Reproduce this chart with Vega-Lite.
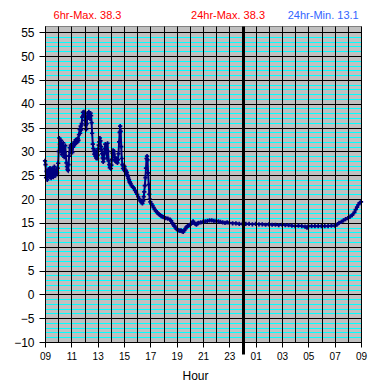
{
  "$schema": "https://vega.github.io/schema/vega-lite/v6.json",
  "width": 316,
  "height": 316,
  "autosize": "none",
  "padding": {"left": 45, "top": 26, "right": 24, "bottom": 46},
  "background": "white",
  "config": {
    "view": {"fill": "#c0c0c0", "stroke": "#808080", "strokeWidth": 1},
    "font": "Liberation Sans"
  },
  "datasets": {
    "temps": [
      {"h":9.00,"t":28.0},{"h":9.04,"t":27.2},{"h":9.08,"t":24.5},{"h":9.12,"t":25.8},{"h":9.17,"t":24.0},{"h":9.21,"t":25.5},{"h":9.25,"t":26.2},{"h":9.29,"t":24.8},{"h":9.33,"t":25.0},{"h":9.38,"t":26.5},{"h":9.42,"t":25.3},{"h":9.46,"t":24.4},{"h":9.5,"t":25.8},{"h":9.54,"t":26.4},{"h":9.58,"t":25.0},{"h":9.63,"t":24.6},{"h":9.67,"t":25.5},{"h":9.71,"t":26.8},{"h":9.75,"t":25.6},{"h":9.79,"t":24.9},{"h":9.83,"t":25.4},{"h":9.88,"t":26.2},{"h":9.92,"t":25.5},{"h":9.96,"t":26.5},
      {"h":10.0,"t":27.5},{"h":10.04,"t":30.0},{"h":10.08,"t":32.8},{"h":10.13,"t":31.5},{"h":10.17,"t":30.0},{"h":10.21,"t":32.3},{"h":10.25,"t":31.0},{"h":10.29,"t":29.3},{"h":10.33,"t":30.8},{"h":10.38,"t":31.8},{"h":10.42,"t":30.2},{"h":10.46,"t":28.8},{"h":10.5,"t":29.8},{"h":10.54,"t":31.2},{"h":10.58,"t":29.0},{"h":10.63,"t":27.6},{"h":10.67,"t":26.8},{"h":10.71,"t":26.2},{"h":10.75,"t":26.0},{"h":10.79,"t":27.2},{"h":10.83,"t":29.0},{"h":10.88,"t":30.8},{"h":10.92,"t":29.8},{"h":10.96,"t":31.3},
      {"h":11.0,"t":30.4},{"h":11.04,"t":31.0},{"h":11.08,"t":29.8},{"h":11.13,"t":30.9},{"h":11.17,"t":31.7},{"h":11.21,"t":31.2},{"h":11.25,"t":32.0},{"h":11.29,"t":31.6},{"h":11.33,"t":32.4},{"h":11.38,"t":31.8},{"h":11.42,"t":32.5},{"h":11.46,"t":32.0},{"h":11.5,"t":32.7},{"h":11.54,"t":32.3},{"h":11.58,"t":33.5},{"h":11.63,"t":34.6},{"h":11.67,"t":33.8},{"h":11.71,"t":35.3},{"h":11.75,"t":34.5},{"h":11.79,"t":35.8},{"h":11.83,"t":37.2},{"h":11.88,"t":38.2},{"h":11.92,"t":37.5},{"h":11.96,"t":38.3},
      {"h":12.0,"t":37.6},{"h":12.04,"t":36.5},{"h":12.08,"t":35.5},{"h":12.13,"t":34.6},{"h":12.17,"t":35.8},{"h":12.21,"t":37.3},{"h":12.25,"t":38.0},{"h":12.29,"t":37.0},{"h":12.33,"t":38.3},{"h":12.38,"t":37.4},{"h":12.42,"t":36.8},{"h":12.46,"t":38.0},{"h":12.5,"t":37.5},{"h":12.54,"t":36.0},{"h":12.58,"t":33.8},{"h":12.63,"t":31.5},{"h":12.67,"t":30.6},{"h":12.71,"t":30.0},{"h":12.75,"t":29.4},{"h":12.79,"t":30.2},{"h":12.83,"t":29.0},{"h":12.88,"t":28.6},{"h":12.92,"t":29.5},{"h":12.96,"t":28.5},
      {"h":13.0,"t":29.2},{"h":13.04,"t":30.5},{"h":13.08,"t":31.3},{"h":13.13,"t":32.0},{"h":13.17,"t":32.8},{"h":13.21,"t":32.2},{"h":13.25,"t":31.0},{"h":13.29,"t":30.3},{"h":13.33,"t":29.5},{"h":13.38,"t":28.6},{"h":13.42,"t":27.8},{"h":13.46,"t":28.4},{"h":13.5,"t":29.6},{"h":13.54,"t":30.6},{"h":13.58,"t":31.5},{"h":13.63,"t":31.0},{"h":13.67,"t":29.5},{"h":13.71,"t":28.6},{"h":13.75,"t":31.7},{"h":13.79,"t":30.0},{"h":13.83,"t":28.0},{"h":13.88,"t":27.2},{"h":13.92,"t":26.6},{"h":13.96,"t":27.0},
      {"h":14.0,"t":26.4},{"h":14.04,"t":27.1},{"h":14.08,"t":28.3},{"h":14.13,"t":29.6},{"h":14.17,"t":30.2},{"h":14.21,"t":29.4},{"h":14.25,"t":30.0},{"h":14.29,"t":28.8},{"h":14.33,"t":28.0},{"h":14.38,"t":28.5},{"h":14.42,"t":27.8},{"h":14.46,"t":28.4},{"h":14.5,"t":27.6},{"h":14.54,"t":28.2},{"h":14.58,"t":29.5},{"h":14.63,"t":32.0},{"h":14.67,"t":34.0},{"h":14.71,"t":35.3},{"h":14.75,"t":34.2},{"h":14.79,"t":31.0},{"h":14.83,"t":28.5},{"h":14.88,"t":27.2},{"h":14.92,"t":26.4},{"h":14.96,"t":27.0},
      {"h":15.0,"t":26.2},{"h":15.04,"t":26.8},{"h":15.08,"t":25.8},{"h":15.13,"t":26.0},{"h":15.17,"t":25.4},{"h":15.21,"t":25.6},{"h":15.25,"t":25.0},{"h":15.29,"t":24.8},{"h":15.33,"t":24.4},{"h":15.38,"t":24.0},{"h":15.42,"t":23.6},{"h":15.46,"t":23.5},{"h":15.5,"t":23.2},{"h":15.58,"t":22.8},{"h":15.67,"t":22.5},{"h":15.75,"t":22.3},{"h":15.83,"t":21.8},{"h":15.92,"t":21.4},
      {"h":16.0,"t":21.0},{"h":16.08,"t":20.5},{"h":16.17,"t":20.0},{"h":16.25,"t":19.6},{"h":16.33,"t":19.3},{"h":16.4,"t":19.1},{"h":16.46,"t":19.6},{"h":16.5,"t":20.5},{"h":16.54,"t":21.5},{"h":16.58,"t":22.8},{"h":16.63,"t":24.5},{"h":16.67,"t":26.5},{"h":16.71,"t":28.5},{"h":16.75,"t":29.0},{"h":16.79,"t":28.2},{"h":16.83,"t":25.5},{"h":16.88,"t":23.0},{"h":16.92,"t":21.0},{"h":16.96,"t":20.0},
      {"h":17.0,"t":19.4},{"h":17.08,"t":19.0},{"h":17.17,"t":18.6},{"h":17.25,"t":18.2},{"h":17.33,"t":17.8},{"h":17.42,"t":17.5},{"h":17.5,"t":17.2},{"h":17.58,"t":17.0},{"h":17.67,"t":16.8},{"h":17.75,"t":16.6},{"h":17.83,"t":16.4},{"h":17.92,"t":16.3},
      {"h":18.0,"t":16.2},{"h":18.17,"t":16.0},{"h":18.33,"t":15.9},{"h":18.5,"t":15.7},{"h":18.58,"t":15.4},{"h":18.67,"t":15.0},{"h":18.75,"t":14.6},{"h":18.83,"t":14.3},{"h":18.92,"t":14.0},
      {"h":19.0,"t":13.7},{"h":19.08,"t":13.5},{"h":19.17,"t":13.4},{"h":19.25,"t":13.3},{"h":19.33,"t":13.4},{"h":19.42,"t":13.2},{"h":19.5,"t":13.1},{"h":19.58,"t":13.4},{"h":19.67,"t":13.8},{"h":19.75,"t":14.1},{"h":19.83,"t":14.3},{"h":19.92,"t":14.4},
      {"h":20.0,"t":14.6},{"h":20.08,"t":14.8},{"h":20.17,"t":15.0},{"h":20.25,"t":15.3},{"h":20.33,"t":15.0},{"h":20.42,"t":14.8},{"h":20.5,"t":14.6},{"h":20.58,"t":14.9},{"h":20.67,"t":15.0},{"h":20.83,"t":15.1},
      {"h":21.0,"t":15.2},{"h":21.17,"t":15.3},{"h":21.33,"t":15.4},{"h":21.5,"t":15.5},{"h":21.67,"t":15.5},{"h":21.83,"t":15.4},
      {"h":22.0,"t":15.4},{"h":22.17,"t":15.3},{"h":22.33,"t":15.2},{"h":22.5,"t":15.1},{"h":22.67,"t":15.0},{"h":22.83,"t":15.1},
      {"h":23.0,"t":15.0},{"h":23.25,"t":14.9},{"h":23.5,"t":14.9},{"h":23.75,"t":14.8},
      {"h":24.0,"t":14.8},{"h":24.25,"t":14.8},{"h":24.5,"t":14.8},{"h":24.75,"t":14.7},
      {"h":25.0,"t":14.8},{"h":25.25,"t":14.7},{"h":25.5,"t":14.7},{"h":25.75,"t":14.6},
      {"h":26.0,"t":14.7},{"h":26.25,"t":14.6},{"h":26.5,"t":14.6},{"h":26.75,"t":14.5},
      {"h":27.0,"t":14.6},{"h":27.25,"t":14.5},{"h":27.5,"t":14.5},{"h":27.75,"t":14.4},
      {"h":28.0,"t":14.3},{"h":28.25,"t":14.4},{"h":28.5,"t":14.3},{"h":28.75,"t":14.2},{"h":28.9,"t":14.0},
      {"h":29.0,"t":14.3},{"h":29.25,"t":14.3},{"h":29.5,"t":14.3},{"h":29.75,"t":14.3},
      {"h":30.0,"t":14.3},{"h":30.25,"t":14.3},{"h":30.5,"t":14.3},{"h":30.75,"t":14.4},
      {"h":31.0,"t":14.4},{"h":31.17,"t":14.6},{"h":31.33,"t":15.0},{"h":31.5,"t":15.2},{"h":31.67,"t":15.5},{"h":31.83,"t":15.8},
      {"h":32.0,"t":16.0},{"h":32.17,"t":16.3},{"h":32.33,"t":16.6},{"h":32.5,"t":17.2},{"h":32.6,"t":17.8},{"h":32.7,"t":18.3},{"h":32.8,"t":18.8},{"h":32.9,"t":19.2},
      {"h":33.0,"t":19.4}
    ],
    "labels": [
      {"text": "6hr-Max. 38.3", "h": 12.23, "t": 58.5, "kind": "max"},
      {"text": "24hr-Max. 38.3", "h": 22.9, "t": 58.5, "kind": "max"},
      {"text": "24hr-Min. 13.1", "h": 30.13, "t": 58.5, "kind": "min"}
    ]
  },
  "encoding": {
    "x": {
      "field": "h", "type": "quantitative",
      "scale": {"domain": [9, 33], "nice": false, "zero": false},
      "axis": {
        "zindex": 1,
        "title": "Hour",
        "titleFont": "Liberation Sans", "titleFontSize": 12, "titleFontWeight": "normal", "titleColor": "black",
        "titleX": 150, "titleY": 37, "titleBaseline": "alphabetic",
        "values": [9,10,11,12,13,14,15,16,17,18,19,20,21,22,23,24,25,26,27,28,29,30,31,32,33],
        "labelExpr": "datum.value % 2 == 1 ? (((datum.value % 24) < 10 ? '0' : '') + (datum.value % 24)) : ''",
        "labelOverlap": false, "labelFlush": false,
        "labelFont": "Liberation Sans", "labelFontSize": 10, "labelColor": "black", "labelPadding": 4,
        "grid": true, "gridColor": "black",
        "gridWidth": {"condition": {"test": "datum.value == 24", "value": 3}, "value": 1},
        "gridOpacity": 1,
        "domain": true, "domainColor": "black",
        "tickColor": "black",
        "tickSize": {"condition": {"test": "datum.value == 24", "value": 12}, "value": 5},
        "tickWidth": {"condition": {"test": "datum.value == 24", "value": 3}, "value": 1},
        "tickOpacity": {"condition": {"test": "datum.value % 2 == 0 && datum.value != 24", "value": 0}, "value": 1}
      }
    },
    "y": {
      "field": "t", "type": "quantitative",
      "scale": {"domain": [-10, 56.3], "nice": false, "zero": false},
      "axis": {
        "title": null,
        "values": [-10,-9,-8,-7,-6,-5,-4,-3,-2,-1,0,1,2,3,4,5,6,7,8,9,10,11,12,13,14,15,16,17,18,19,20,21,22,23,24,25,26,27,28,29,30,31,32,33,34,35,36,37,38,39,40,41,42,43,44,45,46,47,48,49,50,51,52,53,54,55],
        "labelExpr": "datum.value % 5 == 0 ? datum.label : ''",
        "labelOverlap": false, "labelFlush": false,
        "labelFont": "Liberation Sans", "labelFontSize": 12, "labelColor": "black", "labelPadding": 5,
        "grid": true,
        "gridColor": {"condition": {"test": "datum.value % 5 == 0", "value": "black"}, "value": "#00ffff"},
        "gridOpacity": 1, "gridWidth": 1,
        "domain": true, "domainColor": "black",
        "tickColor": "black", "tickSize": 6,
        "tickOpacity": {"condition": {"test": "datum.value % 5 != 0", "value": 0}, "value": 1}
      }
    }
  },
  "layer": [
    {
      "data": {"name": "temps"},
      "mark": {"type": "line", "color": "#000080", "strokeWidth": 2}
    },
    {
      "data": {"name": "temps"},
      "mark": {"type": "point", "shape": "cross", "filled": true, "size": 18, "color": "#000080", "opacity": 1}
    },
    {
      "data": {"name": "labels"},
      "mark": {"type": "text", "font": "Liberation Sans", "fontSize": 11, "align": "center", "baseline": "middle", "clip": false},
      "encoding": {
        "text": {"field": "text"},
        "color": {"field": "kind", "type": "nominal", "scale": {"domain": ["max", "min"], "range": ["#ff0000", "#3366ff"]}, "legend": null}
      }
    }
  ]
}
